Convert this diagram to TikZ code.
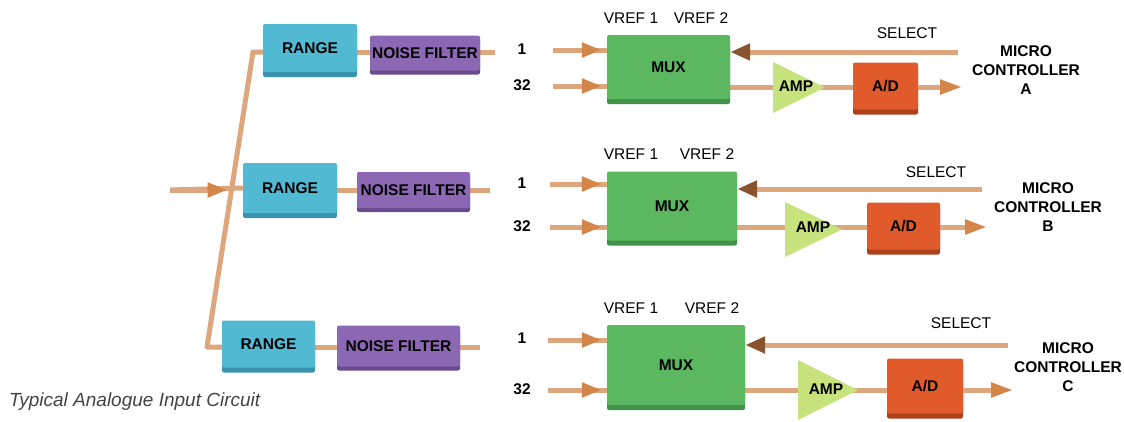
\documentclass[tikz,border=0pt]{standalone}
\usepackage{fontspec}
\setmainfont{Liberation Sans}
\usetikzlibrary{arrows.meta,shadows}
\definecolor{wire}{HTML}{DDA67C}
\definecolor{tipc}{HTML}{D4864A}
\definecolor{seltip}{HTML}{8A5330}
\definecolor{rangec}{HTML}{52B9D2}
\definecolor{ranged}{HTML}{3A93AE}
\definecolor{nfc}{HTML}{8C67B3}
\definecolor{nfd}{HTML}{684A8E}
\definecolor{muxc}{HTML}{5BB760}
\definecolor{muxd}{HTML}{42914A}
\definecolor{ampc}{HTML}{C8E27E}
\definecolor{adc}{HTML}{E05A2B}
\definecolor{add}{HTML}{AE401B}
\definecolor{capc}{HTML}{444444}
\pgfdeclarelayer{bg}
\pgfsetlayers{bg,main}
\tikzset{
  boldtxt/.style={font=\fontsize{15.5pt}{19pt}\selectfont\bfseries},
  thintxt/.style={font=\fontsize{15.5pt}{19pt}\selectfont},
  box/.style={boldtxt, rounded corners=2pt, inner sep=0pt},
  rangebox/.style={box, fill=rangec, drop shadow={fill=ranged, opacity=1, shadow xshift=0pt, shadow yshift=-5pt}},
  nfbox/.style={box, fill=nfc, drop shadow={fill=nfd, opacity=1, shadow xshift=0pt, shadow yshift=-4pt}},
  muxbox/.style={box, fill=muxc, drop shadow={fill=muxd, opacity=1, shadow xshift=0pt, shadow yshift=-5pt}},
  adbox/.style={box, fill=adc, drop shadow={fill=add, opacity=1, shadow xshift=0pt, shadow yshift=-5pt}},
  amptri/.style={fill=ampc},
  wire/.style={draw=wire, line width=5pt},
  inarrow/.style={wire, -{Triangle[length=20pt,width=14pt,color=tipc]}, shorten >=5pt},
  outarrow/.style={wire, -{Triangle[length=22pt,width=14pt,color=tipc]}},
  selarrow/.style={wire, -{Triangle[length=20pt,width=16pt,color=seltip]}},
  lbl/.style={boldtxt, inner sep=0pt},
  mc/.style={boldtxt, align=center, inner sep=0pt},
}
\begin{document}
\begin{tikzpicture}[x=1pt,y=-1pt]
\useasboundingbox (0,0) rectangle (1124,421);

% ---------- left part ----------
\node[rangebox, minimum width=94pt, minimum height=48pt] (rA) at (310,48) {RANGE};
\node[rangebox, minimum width=94pt, minimum height=50pt] (rB) at (290,188) {RANGE};
\node[rangebox, minimum width=93pt, minimum height=47pt] (rC) at (268.5,344) {RANGE};
\node[nfbox, minimum width=110pt, minimum height=35pt] (nfA) at (425,53) {NOISE FILTER};
\node[nfbox, minimum width=113pt, minimum height=36pt] (nfB) at (413.5,190) {NOISE FILTER};
\node[nfbox, minimum width=123pt, minimum height=41pt] (nfC) at (398.5,346) {NOISE FILTER};

\coordinate (tTop) at (253,52);
\coordinate (tBot) at (207,347);
\coordinate (inB) at (170,190);
\coordinate (jB) at (231.5,190);
\coordinate (nfAend) at (495,52);
\coordinate (nfBend) at (490,190);
\coordinate (nfCend) at (480,347);

% ---------- right part ----------
\node[muxbox, minimum width=123pt, minimum height=64pt] (muxA) at (668.5,67) {MUX};
\node[muxbox, minimum width=130pt, minimum height=69pt] (muxB) at (672,206) {MUX};
\node[muxbox, minimum width=138pt, minimum height=80pt] (muxC) at (676,365) {MUX};

\node[adbox, minimum width=65pt, minimum height=47pt] (adA) at (885.5,86) {A/D};
\node[adbox, minimum width=73pt, minimum height=47pt] (adB) at (903.5,226) {A/D};
\node[adbox, minimum width=76pt, minimum height=55pt] (adC) at (925,386) {A/D};

\fill[amptri] (773,62) -- (773,113) -- (825,87.5) -- cycle;
\fill[amptri] (785,202) -- (785,257) -- (842,229.5) -- cycle;
\fill[amptri] (798,360) -- (798,420) -- (858,390) -- cycle;
\node[lbl] (ampA) at (796,86) {AMP};
\node[lbl] (ampB) at (813,227) {AMP};
\node[lbl] (ampC) at (826,389) {AMP};

\node[lbl] (oneA) at (522,49) {1};
\node[lbl] (twoA) at (522,85) {32};
\node[lbl] (oneB) at (522,183) {1};
\node[lbl] (twoB) at (522,226) {32};
\node[lbl] (oneC) at (522,338) {1};
\node[lbl] (twoC) at (522,389) {32};

\node[thintxt, inner sep=0pt] (v1A) at (631,18) {VREF 1};
\node[thintxt, inner sep=0pt] (v2A) at (701,18) {VREF 2};
\node[thintxt, inner sep=0pt] (v1B) at (631,154) {VREF 1};
\node[thintxt, inner sep=0pt] (v2B) at (707,154) {VREF 2};
\node[thintxt, inner sep=0pt] (v1C) at (631,308) {VREF 1};
\node[thintxt, inner sep=0pt] (v2C) at (712,308) {VREF 2};

\node[thintxt, inner sep=0pt] (sA) at (907,33) {SELECT};
\node[thintxt, inner sep=0pt] (sB) at (936,172) {SELECT};
\node[thintxt, inner sep=0pt] (sC) at (961,323) {SELECT};

\node[mc] (mcA) at (1026,70) {MICRO\\CONTROLLER\\A};
\node[mc] (mcB) at (1048,207) {MICRO\\CONTROLLER\\B};
\node[mc] (mcC) at (1068,367) {MICRO\\CONTROLLER\\C};

\coordinate (i1A) at (553,50);
\coordinate (i2A) at (553,86);
\coordinate (i1B) at (550,184);
\coordinate (i2B) at (550,227);
\coordinate (i1C) at (548,340);
\coordinate (i2C) at (548,390);
\coordinate (selA) at (958,52);
\coordinate (selB) at (982,189);
\coordinate (selC) at (1008,345);
\coordinate (outA) at (962,87);
\coordinate (outB) at (987,227);
\coordinate (outC) at (1013,390);

\node[font=\fontsize{19pt}{23pt}\selectfont\itshape, text=capc, anchor=west, inner sep=0pt] (cap) at (9,402) {Typical Analogue Input Circuit};

\begin{pgfonlayer}{bg}
  \fill[white] (0,0) rectangle (1124,421);
  % trunk and left wires
  \draw[wire, line join=round] (rA.west |- tTop) -- (tTop) -- (tBot) -- (tBot -| rC.west);
  \draw[wire] (inB) -- (rB.west);
  \draw[inarrow, shorten >=4pt] (inB) -- (jB);
  \draw[wire] (rA.center |- tTop) -- (nfAend);
  \draw[wire] (rB.center |- jB) -- (nfBend);
  \draw[wire] (rC.center |- nfCend) -- (nfCend);
  % mux inputs
  \foreach \i/\m in {i1A/muxA,i2A/muxA,i1B/muxB,i2B/muxB,i1C/muxC,i2C/muxC}{
    \draw[wire] (\i) -- (\i -| \m.west);
    \draw[inarrow] (\i) -- (\i -| \m.west);
  }
  % select lines
  \draw[selarrow] (selA) -- (selA -| muxA.east);
  \draw[selarrow] (selB) -- (selB -| muxB.east);
  \draw[selarrow] (selC) -- (selC -| muxC.east);
  % outputs
  \draw[wire] (outA -| muxA.center) -- (outA -| adA.center);
  \draw[wire] (outB -| muxB.center) -- (outB -| adB.center);
  \draw[wire] (outC -| muxC.center) -- (outC -| adC.center);
\end{pgfonlayer}
\draw[outarrow] (outA -| adA.east) -- (outA);
\draw[outarrow] (outB -| adB.east) -- (outB);
\draw[outarrow] (outC -| adC.east) -- (outC);
\end{tikzpicture}
\end{document}
